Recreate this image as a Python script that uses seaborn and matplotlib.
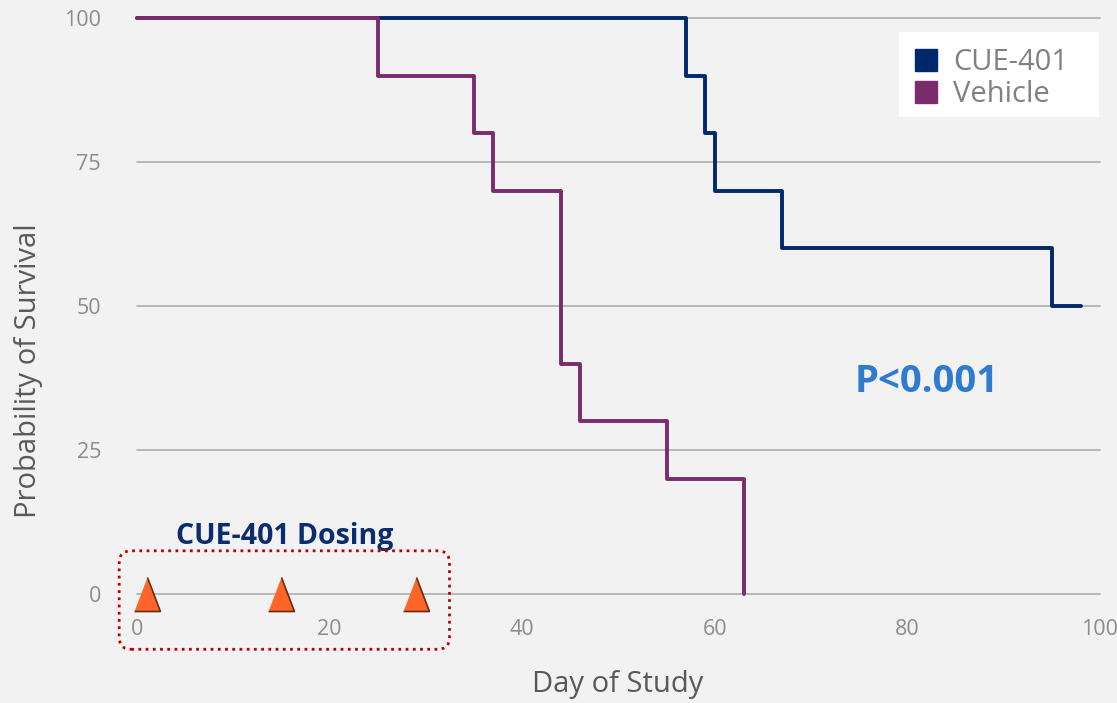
import numpy as np
import pandas as pd
import matplotlib.pyplot as plt
import seaborn as sns
from matplotlib.patches import FancyBboxPatch, Rectangle
from matplotlib.lines import Line2D

sns.set_theme(style="white")
plt.rcParams['font.family'] = ['Open Sans', 'DejaVu Sans']

# Kaplan-Meier steps
cue_days = [0, 57, 59, 60, 67, 95, 98]
cue_surv = [100, 90, 80, 70, 60, 50, 50]
veh_days = [0, 25, 35, 37, 44, 46, 55, 63]
veh_surv = [100, 90, 80, 70, 40, 30, 20, 0]

dose_days = [1, 15, 29]
dose_level = [0, 0, 0]

groups = ["CUE-401", "Vehicle"]
colors = {"CUE-401": "#00296b", "Vehicle": "#7b2c6d"}

x_ticks = [0, 20, 40, 60, 80, 100]
y_ticks = [0, 25, 50, 75, 100]

df = pd.concat([
    pd.DataFrame({"day": cue_days, "surv": cue_surv, "group": "CUE-401"}),
    pd.DataFrame({"day": veh_days, "surv": veh_surv, "group": "Vehicle"}),
], ignore_index=True)
doses = pd.DataFrame({"day": dose_days, "level": dose_level})

bg = "#f2f2f2"
fig = plt.figure(figsize=(11.17, 7.03), dpi=100, facecolor=bg)
ax = fig.add_axes([137 / 1117, 1 - 594 / 703, 963 / 1117, 576 / 703])
ax.set_facecolor(bg)

for y in y_ticks:
    ax.axhline(y, color="#b3b3b3", lw=1.3, zorder=1, clip_on=False)

for g in groups:
    sns.lineplot(data=df[df.group == g], x="day", y="surv", color=colors[g],
                 drawstyle="steps-post", estimator=None, sort=False, lw=2.8,
                 ax=ax, zorder=3, legend=False, clip_on=False)

tri = [(-0.76, -1), (0.76, -1), (0, 1)]
sns.scatterplot(data=doses, x="day", y="level", marker=tri, s=600,
                color="#ff6529", edgecolor="#6b2a12", linewidth=1.2,
                ax=ax, zorder=5, clip_on=False, legend=False)

ax.set_xlim(0, 100)
ax.set_ylim(0, 100)
ax.set_xticks(x_ticks)
ax.set_yticks(y_ticks)
ax.tick_params(axis="both", length=0, labelsize=15.5, labelcolor="#8c8c8c")
ax.tick_params(axis="y", pad=26)
ax.tick_params(axis="x", pad=18)
for s in ax.spines.values():
    s.set_visible(False)

ax.set_xlabel("Day of Study", fontsize=21, color="#595959")
ax.set_ylabel("Probability of Survival", fontsize=21, color="#595959")
ax.xaxis.set_label_coords(0.4995, -0.132)
ax.yaxis.set_label_coords(-0.098, 0.387)

# dosing box, drawn in pixel space so the corners stay round
fig.canvas.draw()
(x0, y0), (x1, y1) = ax.transData.transform([(-1.85, -9.6), (32.45, 7.5)])
box = FancyBboxPatch((x0, y0), x1 - x0, y1 - y0,
                     boxstyle="round,pad=0,rounding_size=12",
                     transform=None, fill=False, edgecolor="#c00000",
                     lw=2, linestyle=(0, (1, 1.6)), zorder=6)
fig.patches.append(box)
box.set_figure(fig)

ax.text(15.3, 9.9, "CUE-401 Dosing", ha="center", va="center",
        fontsize=20.5, fontweight="bold", color="#0b2d6d", clip_on=False)
ax.text(82, 36.8, "P<0.001", ha="center", va="center",
        fontsize=27.5, fontweight="bold", color="#2e7bcf")

# legend panel
ax.add_patch(Rectangle((0.7913, 0.828), 0.2077, 0.1477, transform=ax.transAxes,
                       facecolor="white", edgecolor="none", zorder=7,
                       clip_on=False))
handles = [Line2D([], [], marker="s", ls="", markersize=16,
                  markerfacecolor=colors[g], markeredgecolor=colors[g])
           for g in groups]
leg = ax.legend(handles, groups, loc="upper left",
                bbox_to_anchor=(0.7913 + 12 / 963, 0.9757 - 16 / 576),
                borderaxespad=0, fontsize=21, frameon=False,
                labelspacing=0.12, handletextpad=0.45, borderpad=0,
                handlelength=1.0)
leg.set_zorder(8)
for t in leg.get_texts():
    t.set_color("#808080")

fig.savefig("out.png", dpi=100, facecolor=bg)
